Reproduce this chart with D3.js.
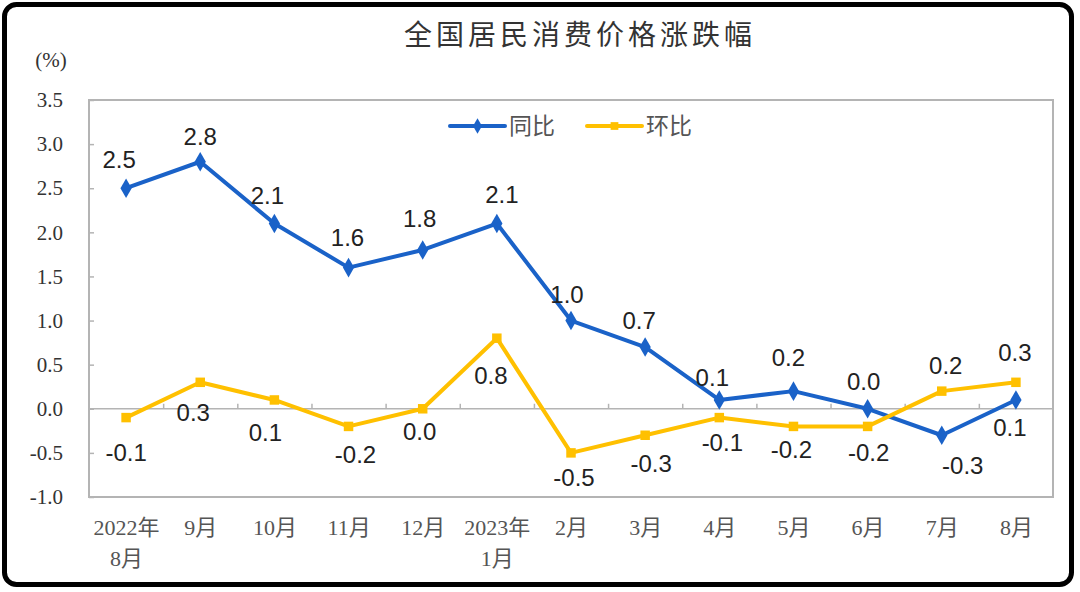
<!DOCTYPE html>
<html><head><meta charset="utf-8">
<script src="https://cdn.jsdelivr.net/npm/d3@7/dist/d3.min.js"></script>
<style>
html,body{margin:0;padding:0;background:#fff;}
svg{display:block;}
</style></head>
<body>
<svg id="chart" width="1080" height="592"></svg>
<script>
// ---- data ----
const categories = ["2022年\n8月","9月","10月","11月","12月","2023年\n1月","2月","3月","4月","5月","6月","7月","8月"];
const yoyValues = [2.5, 2.8, 2.1, 1.6, 1.8, 2.1, 1.0, 0.7, 0.1, 0.2, 0.0, -0.3, 0.1];
const momValues = [-0.1, 0.3, 0.1, -0.2, 0.0, 0.8, -0.5, -0.3, -0.1, -0.2, -0.2, 0.2, 0.3];
const yTicks = [-1.0, -0.5, 0.0, 0.5, 1.0, 1.5, 2.0, 2.5, 3.0, 3.5];
const seriesNames = ["同比", "环比"];
const titleText = "全国居民消费价格涨跌幅";
const unitText = "(%)";

// ---- layout (label nudges in px, relative to point) ----
const yoyNudge = [[-7,-29],[0,-25],[-7,-28],[-1,-30],[-3,-32],[5,-29],[-4,-26],[-6,-27],[-7,-23],[-5,-34],[-4,-27],[21,30],[-6,27]];
const momNudge = [[0,35],[-7,30],[-9,32],[7,28],[-3,23],[-6,37],[3,24],[6,28],[3,25],[-2,23],[1,26],[4,-26],[-1,-30]];

const fmt = d => d3.format(".1f")(d).replace("\u2212", "-");
const colors = {yoy: "#1a62c8", mom: "#ffc000"};
const svg = d3.select("#chart");
const W = 1080, H = 592;
const plot = {left: 89, right: 1053, top: 100, bottom: 497};

const x = d3.scalePoint().domain(d3.range(categories.length))
  .range([plot.left, plot.right]).padding(0.5);
const y = d3.scaleLinear().domain([-1, 3.5]).range([plot.bottom, plot.top]);

// outer border
svg.append("rect").attr("x", 4.5).attr("y", 4.5).attr("width", W - 9 - 4).attr("height", H - 9 - 3)
  .attr("rx", 12).attr("fill", "#fff").attr("stroke", "#000").attr("stroke-width", 5);

// title
svg.append("text").attr("x", 580).attr("y", 45).attr("text-anchor", "middle")
  .attr("font-family", "'Noto Sans CJK SC', sans-serif").attr("font-size", 28)
  .attr("letter-spacing", 4).attr("fill", "#333").text(titleText);

// unit
svg.append("text").attr("x", 51).attr("y", 67).attr("text-anchor", "middle")
  .attr("font-family", "'Liberation Serif', serif").attr("font-size", 21)
  .attr("fill", "#333").text(unitText);

// plot frame
svg.append("rect").attr("x", plot.left).attr("y", plot.top)
  .attr("width", plot.right - plot.left).attr("height", plot.bottom - plot.top)
  .attr("fill", "none").attr("stroke", "#b4b4b4").attr("stroke-width", 2);

// y axis
const yAxis = d3.axisLeft(y).tickValues(yTicks).tickFormat(fmt).tickSize(-5).tickPadding(26);
const gy = svg.append("g").attr("transform", `translate(${plot.left},0)`).call(yAxis);
gy.select(".domain").remove();
gy.selectAll(".tick line").attr("stroke", "#b4b4b4").attr("stroke-width", 1.5);
gy.selectAll(".tick text").attr("font-family", "'Liberation Serif', serif").attr("font-size", 21)
  .attr("fill", "#333");

// zero line with ticks between categories
const step = x.step();
const zeroAxis = d3.axisBottom(x).tickValues(d3.range(1, categories.length)).tickSize(-5).tickFormat("");
const gz = svg.append("g").attr("transform", `translate(${-step / 2},${y(0)})`).call(zeroAxis);
gz.select(".domain").remove();
gz.selectAll(".tick line").attr("stroke", "#b4b4b4").attr("stroke-width", 1.5);
svg.append("line").attr("x1", plot.left).attr("x2", plot.right).attr("y1", y(0)).attr("y2", y(0))
  .attr("stroke", "#b4b4b4").attr("stroke-width", 1.5);

// x axis labels
const xAxis = d3.axisBottom(x).tickSize(0).tickFormat("");
const gx = svg.append("g").attr("transform", `translate(0,${plot.bottom})`).call(xAxis);
gx.select(".domain").remove();
gx.selectAll(".tick").each(function(d) {
  const lines = categories[d].split("\n");
  const t = d3.select(this).append("text").attr("text-anchor", "middle")
    .attr("font-family", "'Liberation Serif', 'Noto Sans CJK SC', serif").attr("font-size", 22)
    .attr("fill", "#555");
  lines.forEach((ln, i) => t.append("tspan").attr("x", 0).attr("y", 38 + i * 31).text(ln));
});

// lines
const line = d3.line().x((d, i) => x(i)).y(d => y(d));
function drawSeries(values, color, marker, nudge) {
  svg.append("path").datum(values).attr("d", line).attr("fill", "none")
    .attr("stroke", color).attr("stroke-width", 4).attr("stroke-linejoin", "round");
  const sym = d3.symbol().type(marker).size(marker === d3.symbolDiamond ? 110 : 90);
  svg.append("g").selectAll("path").data(values).join("path")
    .attr("transform", (d, i) => `translate(${x(i)},${y(d)})`)
    .attr("d", sym).attr("fill", color);
  svg.append("g").selectAll("text").data(values).join("text")
    .attr("x", (d, i) => x(i) + nudge[i][0])
    .attr("y", (d, i) => y(d) + nudge[i][1])
    .attr("dy", "0.36em").attr("text-anchor", "middle")
    .attr("font-family", "'Liberation Sans', Arial, sans-serif").attr("font-size", 24)
    .attr("fill", "#222").text(fmt);
}
drawSeries(yoyValues, colors.yoy, d3.symbolDiamond, yoyNudge);
drawSeries(momValues, colors.mom, d3.symbolSquare, momNudge);

// legend
const legend = [
  {name: seriesNames[0], color: colors.yoy, marker: d3.symbolDiamond, x: 450},
  {name: seriesNames[1], color: colors.mom, marker: d3.symbolSquare, x: 587}
];
const ly = 126;
legend.forEach(l => {
  svg.append("line").attr("x1", l.x).attr("x2", l.x + 55).attr("y1", ly).attr("y2", ly)
    .attr("stroke", l.color).attr("stroke-width", 4).attr("stroke-linecap", "round");
  svg.append("path").attr("transform", `translate(${l.x + 27.5},${ly})`)
    .attr("d", d3.symbol().type(l.marker).size(l.marker === d3.symbolDiamond ? 70 : 60)()).attr("fill", l.color);
  svg.append("text").attr("x", l.x + 59).attr("y", ly).attr("dy", "0.36em")
    .attr("font-family", "'Noto Sans CJK SC', sans-serif").attr("font-size", 23)
    .attr("fill", "#555").text(l.name);
});
</script>
</body></html>
